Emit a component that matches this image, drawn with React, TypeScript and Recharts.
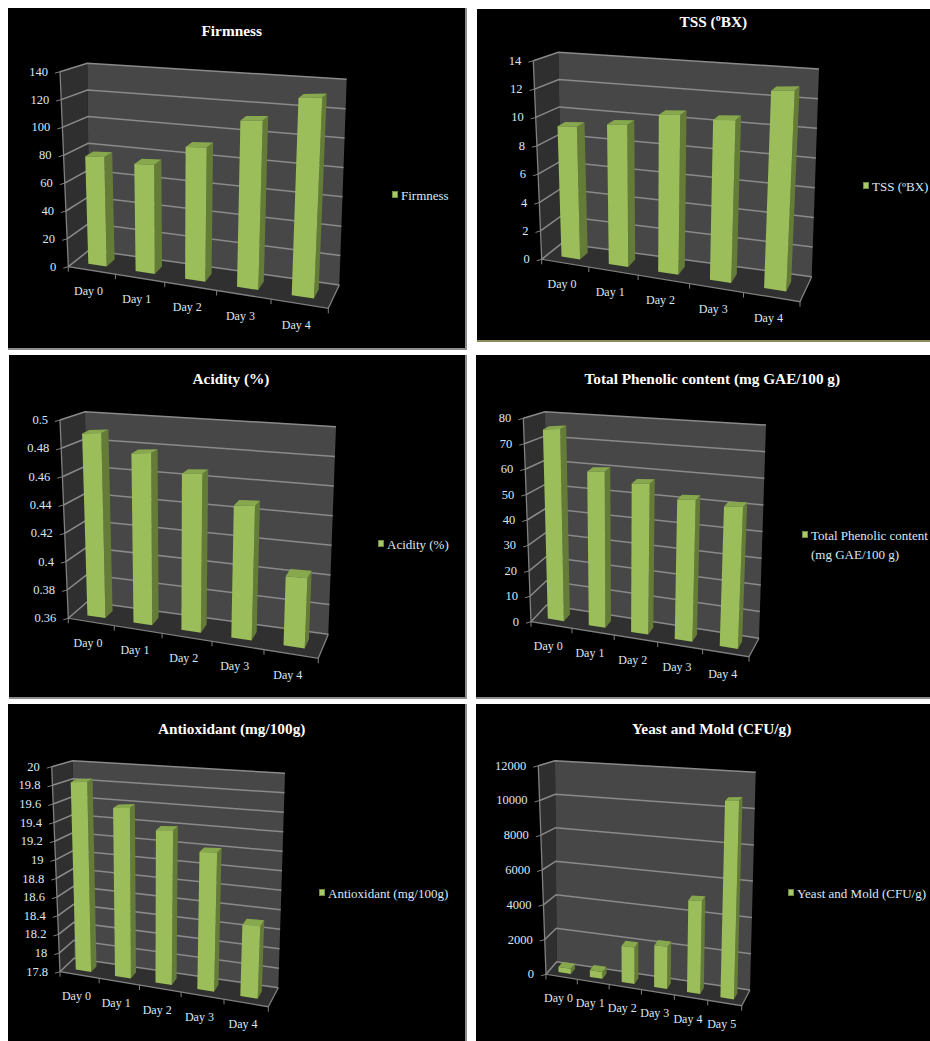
import { BarChart, Bar, XAxis, YAxis, CartesianGrid, Legend } from "recharts"

type Pt = [number, number]

const days = ["Day 0", "Day 1", "Day 2", "Day 3", "Day 4"]
const daysYeast = ["Day 0", "Day 1", "Day 2", "Day 3", "Day 4", "Day 5"]

const firmnessValues = [80, 76, 89, 107, 121]
const firmnessTicks = [0, 20, 40, 60, 80, 100, 120, 140]

const tssValues = [9.5, 9.7, 10.4, 10.1, 11.9]
const tssTicks = [0, 2, 4, 6, 8, 10, 12, 14]

const acidityValues = [0.493, 0.478, 0.464, 0.444, 0.402]
const acidityTicks = [0.36, 0.38, 0.4, 0.42, 0.44, 0.46, 0.48, 0.5]

const phenolicValues = [77, 60, 55.5, 50, 48]
const phenolicTicks = [0, 10, 20, 30, 40, 50, 60, 70, 80]

const antioxidantValues = [19.87, 19.58, 19.35, 19.14, 18.47]
const antioxidantTicks = [17.8, 18, 18.2, 18.4, 18.6, 18.8, 19, 19.2, 19.4, 19.6, 19.8, 20]

const yeastValues = [300, 380, 2000, 2250, 4800, 9950]
const yeastTicks = [0, 2000, 4000, 6000, 8000, 10000, 12000]

const FRONT = "#9bbd5a"
const SIDE = "#647c38"
const TOP = "#87a84c"
const LABEL = "#dbe7f5"
const FONT = "'Liberation Serif', serif"

const BAR_NEAR = 0.3
const BAR_DEPTH = 0.4

const mix = (a: Pt, b: Pt, t: number): Pt => [a[0] + (b[0] - a[0]) * t, a[1] + (b[1] - a[1]) * t]
const toPath = (pts: Pt[]) => pts.map((p) => p[0].toFixed(1) + "," + p[1].toFixed(1)).join(" ")

interface Frame {
  box: [number, number, number, number]
  ftl: Pt; fbl: Pt; fbr: Pt; btl: Pt; btr: Pt; bbl: Pt; bbr: Pt
  warp: number
  titleAt: Pt
  legendAt: Pt
  legendWidth: number
  edge?: string
}

interface PanelProps {
  title: string
  series: string
  legendLines?: string[]
  categories: string[]
  values: number[]
  ticks: number[]
  frame: Frame
}

// flat plot coordinates are pushed through this to get the tilted box
function projection(f: Frame) {
  const [ox, oy, W, H] = f.box
  const loc = (p: Pt): Pt => [p[0] - ox, p[1] - oy]
  const warp = (u: number) => u / (f.warp + (1 - f.warp) * u)
  const [ftl, fbl, fbr, btl, btr, bbl, bbr] = [f.ftl, f.fbl, f.fbr, f.btl, f.btr, f.bbl, f.bbr].map(loc)

  const floor = (u: number, d: number) => mix(mix(fbl, bbl, d), mix(fbr, bbr, d), warp(u))
  const leftWall = (v: number, d: number) => mix(mix(ftl, fbl, v), mix(btl, bbl, v), d)
  const backWall = (u: number, v: number) => mix(mix(btl, btr, u), mix(bbl, bbr, u), v)

  const barTL: Pt = [mix(ftl, btl, BAR_NEAR)[0], ftl[1] + 4.5]
  const barTR: Pt = [btr[0] - 4.5, ftl[1] - 6.5]

  const barFront = (u: number, v: number) =>
    mix(mix(barTL, barTR, warp(u)), floor(u, BAR_NEAR), v)
  const barBack = (u: number, v: number): Pt => {
    const near = barFront(u, v)
    const run = floor(u, 1)
    const start = floor(u, 0)
    const dx = run[0] - start[0]
    const dy = -8 + (run[1] - start[1] + 8) * v
    return [near[0] + dx * BAR_DEPTH, near[1] + dy * BAR_DEPTH]
  }

  return { W, H, ftl, fbl, fbr, btl, btr, bbl, bbr, floor, leftWall, backWall, barFront, barBack }
}

function Panel({ title, series, legendLines, categories, values, ticks, frame }: PanelProps) {
  const p = projection(frame)
  const { W, H } = p
  // the axes keep a 1px strip each, a zero sized axis draws no ticks
  const plotW = W - 1
  const plotH = H - 1
  const toU = (x: number) => (x - 1) / plotW
  const rows = categories.map((day, i) => ({ day, value: values[i] }))
  const [ox, oy] = frame.box

  const gridLine = (props: any) => {
    const v = props.y1 / plotH
    const line = toPath([p.leftWall(v, 0), p.leftWall(v, 1), p.backWall(1, v)])
    return (
      <g key={props.index}>
        {props.index === 0 && (
          <>
            <polygon points={toPath([p.ftl, p.btl, p.bbl, p.fbl])} fill="#2f2f2f" />
            <polygon points={toPath([p.btl, p.btr, p.bbr, p.bbl])} fill="#474747" />
            <polygon points={toPath([p.fbl, p.bbl, p.bbr, p.fbr])} fill="#303030" />
            <polyline points={toPath([p.ftl, p.fbl, p.fbr, p.bbr])} fill="none" stroke="#808080" strokeWidth={1.3} />
          </>
        )}
        <polyline points={line} fill="none" stroke="#8a8a8a" strokeWidth={1.5} />
      </g>
    )
  }

  const yTick = (props: any) => {
    const [x, y] = p.leftWall(props.y / plotH, 0)
    return (
      <g>
        <line x1={x - 5} y1={y + 1.5} x2={x} y2={y} stroke="#808080" />
        <text x={x - 12} y={y + 4} textAnchor="end" fontFamily={FONT} fontSize={12.5} fill={LABEL}>
          {String(props.payload.value)}
        </text>
      </g>
    )
  }

  const xTick = (props: any) => {
    const n = categories.length
    const mark = (u: number) => {
      const [x, y] = p.floor(u, 0)
      return <line x1={x} y1={y} x2={x} y2={y + 5} stroke="#808080" />
    }
    const [x, y] = p.floor(toU(props.x), 0)
    return (
      <g>
        {mark(props.index / n)}
        {props.index === n - 1 && mark(1)}
        <text x={x - 3} y={y + 25} textAnchor="middle" fontFamily={FONT} fontSize={12} fill={LABEL}>
          {props.payload.value}
        </text>
      </g>
    )
  }

  const bar3d = (props: any) => {
    const u0 = toU(props.x)
    const u1 = toU(props.x + props.width)
    const v0 = props.y / plotH
    const v1 = (props.y + props.height) / plotH
    const a = p.barFront(u0, v0)
    const b = p.barFront(u1, v0)
    const c = p.barFront(u1, v1)
    const d = p.barFront(u0, v1)
    const aBack = p.barBack(u0, v0)
    const bBack = p.barBack(u1, v0)
    const cBack = p.barBack(u1, v1)
    return (
      <g>
        <polygon points={toPath([b, bBack, cBack, c])} fill={SIDE} />
        <polygon points={toPath([a, aBack, bBack, b])} fill={TOP} />
        <polygon points={toPath([a, b, c, d])} fill={FRONT} />
      </g>
    )
  }

  const legendBody = () => (
    <div style={{ display: "flex", alignItems: "flex-start", fontFamily: FONT, fontSize: 13, color: LABEL, lineHeight: "19px" }}>
      <span style={{ width: 6, height: 7, marginTop: 5, marginRight: 3, flex: "none", background: "#a9c96b", boxShadow: "inset 0 0 0 1px #6f8a3c" }} />
      <span style={{ whiteSpace: "nowrap" }}>
        {(legendLines ?? [series]).map((line) => <div key={line}>{line}</div>)}
      </span>
    </div>
  )

  return (
    <div
      style={{
        position: "absolute", left: ox, top: oy, width: W, height: H, background: "#000",
        boxShadow: `1px 1px 0 1px ${frame.edge ?? "#8c8c8c"}`,
      }}
    >
      <BarChart width={W} height={H} data={rows} margin={{ top: 0, right: 0, bottom: 0, left: 0 }} barCategoryGap="30%">
        <CartesianGrid vertical={false} horizontal={gridLine} />
        <XAxis dataKey="day" height={1} interval={0} axisLine={false} tickLine={false} tick={xTick} />
        <YAxis
          type="number"
          width={1}
          domain={[ticks[0], ticks[ticks.length - 1]]}
          ticks={ticks}
          interval={0}
          axisLine={false}
          tickLine={false}
          tick={yTick}
        />
        <Legend
          layout="vertical"
          align="center"
          verticalAlign="middle"
          content={legendBody}
          wrapperStyle={{ left: frame.legendAt[0] - ox, top: frame.legendAt[1] - oy, width: frame.legendWidth }}
        />
        <Bar dataKey="value" name={series} fill={FRONT} isAnimationActive={false} shape={bar3d} />
      </BarChart>
      <div
        style={{
          position: "absolute", left: frame.titleAt[0] - ox - 200, top: frame.titleAt[1] - oy - 10, width: 400,
          textAlign: "center", fontFamily: FONT, fontWeight: "bold", fontSize: 15.3, lineHeight: "20px", color: "#fff",
        }}
      >
        {title}
      </div>
    </div>
  )
}

const firmnessFrame: Frame = {
  box: [8, 8, 457, 340],
  ftl: [60, 71.7], fbl: [68.3, 266.7], fbr: [328.3, 308.3],
  btl: [87.3, 63.3], btr: [346.7, 79.3], bbl: [89.3, 250], bbr: [339.3, 285],
  warp: 1.13, titleAt: [231.7, 31], legendAt: [392, 186], legendWidth: 70,
}
const tssFrame: Frame = {
  box: [477, 9, 453, 331],
  ftl: [533.3, 60.7], fbl: [541.7, 259.3], fbr: [800, 301.7],
  btl: [558.3, 52.3], btr: [819, 69], bbl: [561.7, 243.3], bbr: [811.7, 276.7],
  warp: 1.12, titleAt: [713.3, 21.7], legendAt: [863, 177], legendWidth: 66, edge: "#8a8a5a",
}
const acidityFrame: Frame = {
  box: [9, 355, 456, 342],
  ftl: [60, 420], fbl: [68.3, 618.3], fbr: [318.3, 658.3],
  btl: [85, 411.7], btr: [336, 426.7], bbl: [87.3, 601.7], bbr: [328.3, 634.3],
  warp: 1.11, titleAt: [231, 379], legendAt: [378, 535], legendWidth: 80,
}
const phenolicFrame: Frame = {
  box: [476, 355, 454, 342],
  ftl: [523.3, 418.3], fbl: [531, 621.7], fbr: [749, 656.7],
  btl: [545, 411.7], btr: [766, 425], bbl: [546.7, 605], bbr: [759, 638.3],
  warp: 1.08, titleAt: [712.3, 379], legendAt: [802, 526], legendWidth: 128,
}
const antioxidantFrame: Frame = {
  box: [8, 704, 457, 337],
  ftl: [51.7, 766.7], fbl: [60, 971.7], fbr: [268.3, 1006.7],
  btl: [72.7, 760.7], btr: [285, 773.3], bbl: [74, 958.3], bbr: [278.3, 987.7],
  warp: 1.08, titleAt: [231.7, 729], legendAt: [319, 884], legendWidth: 140,
}
const yeastFrame: Frame = {
  box: [476, 704, 454, 337],
  ftl: [538.3, 765.7], fbl: [546, 974.3], fbr: [741.7, 1005.7],
  btl: [555, 760.7], btr: [755.7, 772.3], bbl: [556.7, 961.7], bbr: [750, 990],
  warp: 1.05, titleAt: [711.7, 729], legendAt: [788, 884], legendWidth: 140,
}

export default function App() {
  return (
    <div style={{ position: "absolute", left: 0, top: 0, width: 930, height: 1041, background: "#fff", overflow: "hidden" }}>
      <Panel title="Firmness" series="Firmness" categories={days} values={firmnessValues} ticks={firmnessTicks} frame={firmnessFrame} />
      <Panel title="TSS (ºBX)" series="TSS (ºBX)" categories={days} values={tssValues} ticks={tssTicks} frame={tssFrame} />
      <Panel title="Acidity (%)" series="Acidity (%)" categories={days} values={acidityValues} ticks={acidityTicks} frame={acidityFrame} />
      <Panel
        title="Total Phenolic content (mg GAE/100 g)"
        series="Total Phenolic content (mg GAE/100 g)"
        legendLines={["Total Phenolic content", "(mg GAE/100 g)"]}
        categories={days}
        values={phenolicValues}
        ticks={phenolicTicks}
        frame={phenolicFrame}
      />
      <Panel title="Antioxidant (mg/100g)" series="Antioxidant (mg/100g)" categories={days} values={antioxidantValues} ticks={antioxidantTicks} frame={antioxidantFrame} />
      <Panel title="Yeast and Mold (CFU/g)" series="Yeast and Mold (CFU/g)" categories={daysYeast} values={yeastValues} ticks={yeastTicks} frame={yeastFrame} />
    </div>
  )
}
